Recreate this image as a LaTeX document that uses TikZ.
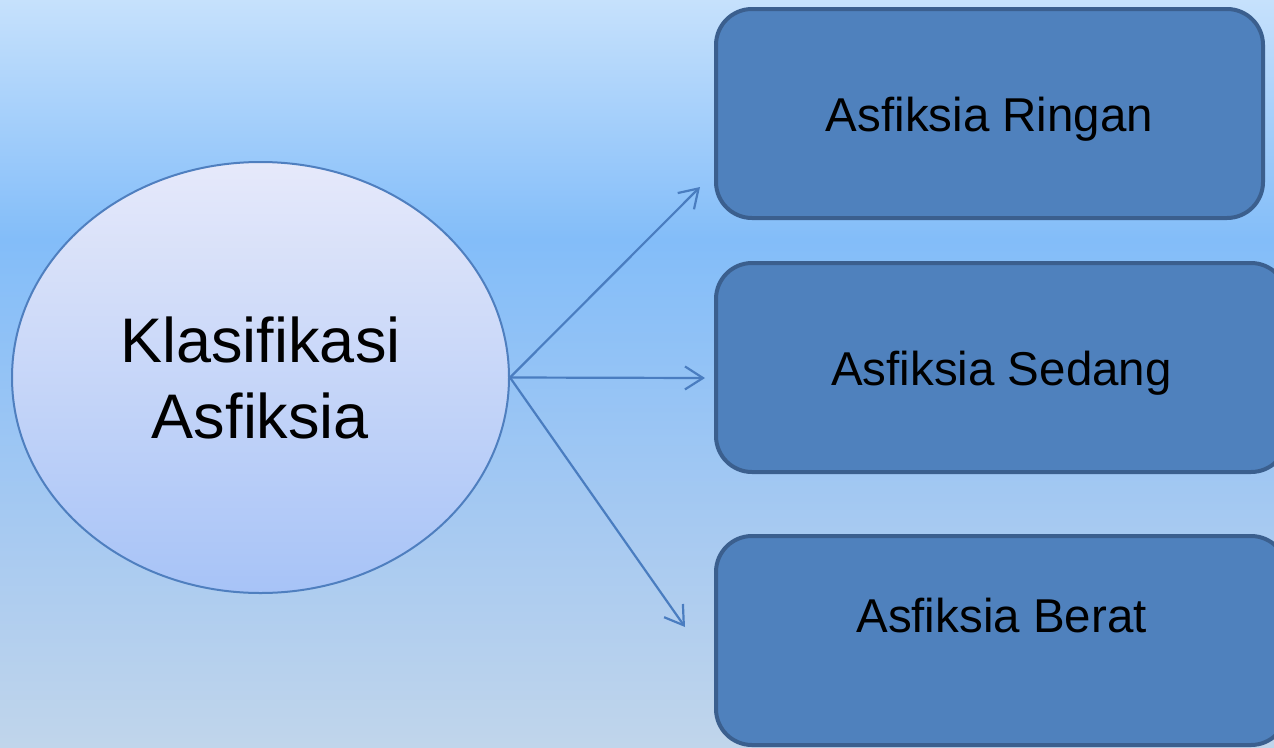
\documentclass[tikz,border=0pt]{standalone}
\usepackage{fontspec}
\setmainfont{Liberation Sans}
\usepackage{tikz}
\usetikzlibrary{positioning,arrows.meta,shapes.geometric}

\definecolor{bgtop}{HTML}{C6E1FC}
\definecolor{bgmid}{HTML}{83BDF9}
\definecolor{bglow}{HTML}{A8CAF1}
\definecolor{bgbot}{HTML}{C0D5EB}
\definecolor{ovaltop}{HTML}{E6E9FA}
\definecolor{ovalbot}{HTML}{A7C3F7}
\definecolor{ovalline}{HTML}{4F7FBF}
\definecolor{boxfill}{HTML}{4F81BD}
\definecolor{boxline}{HTML}{3B5F8E}
\definecolor{arrowcol}{HTML}{4A7DC0}

\pgfdeclareverticalshading{backdrop}{100bp}{color(0bp)=(bgbot); color(25bp)=(bgbot);
  color(39bp)=(bglow); color(59bp)=(bgmid); color(75bp)=(bgtop); color(100bp)=(bgtop)}

\tikzset{
  oval/.style={ellipse, draw=ovalline, line width=2pt, top color=ovaltop,
    bottom color=ovalbot, minimum width=497pt, minimum height=431pt, inner sep=0pt,
    align=center, font=\fontsize{63}{76}\selectfont},
  kind/.style={rectangle, rounded corners=36pt, draw=boxline, line width=4pt,
    fill=boxfill, minimum height=209pt, inner sep=0pt, text height=35pt,
    text depth=0pt, font=\fontsize{47.5}{57}\selectfont},
  link/.style={draw=arrowcol, line width=2.2pt,
    -{Straight Barb[length=18pt,width=23pt,line width=2.2pt]}}
}

\begin{document}
\begin{tikzpicture}[x=1pt, y=-1pt]
  \useasboundingbox (0,0) rectangle (1274,747);
  \shade[shading=backdrop] (0,0) rectangle (1274,747);

  \node [oval] (klas) at (260.5,377.5) {Klasifikasi\\Asfiksia};

  \node [kind, minimum width=547pt] (ringan) at (989.5,113.5) {Asfiksia Ringan};
  \node [kind, minimum width=571pt] (sedang) at (1001.5,367.5) {Asfiksia Sedang};
  \node [kind, minimum width=571pt, text depth=52pt] (berat) at (1001.5,640.5)
    {Asfiksia Berat};

  \coordinate (to ringan) at (700,187);
  \coordinate (to sedang) at (705,378);
  \coordinate (to berat) at (685,627);

  \draw [link] (klas.east) -- (to ringan);
  \draw [link] (klas.east) -- (to sedang);
  \draw [link] (klas.east) -- (to berat);
\end{tikzpicture}
\end{document}
